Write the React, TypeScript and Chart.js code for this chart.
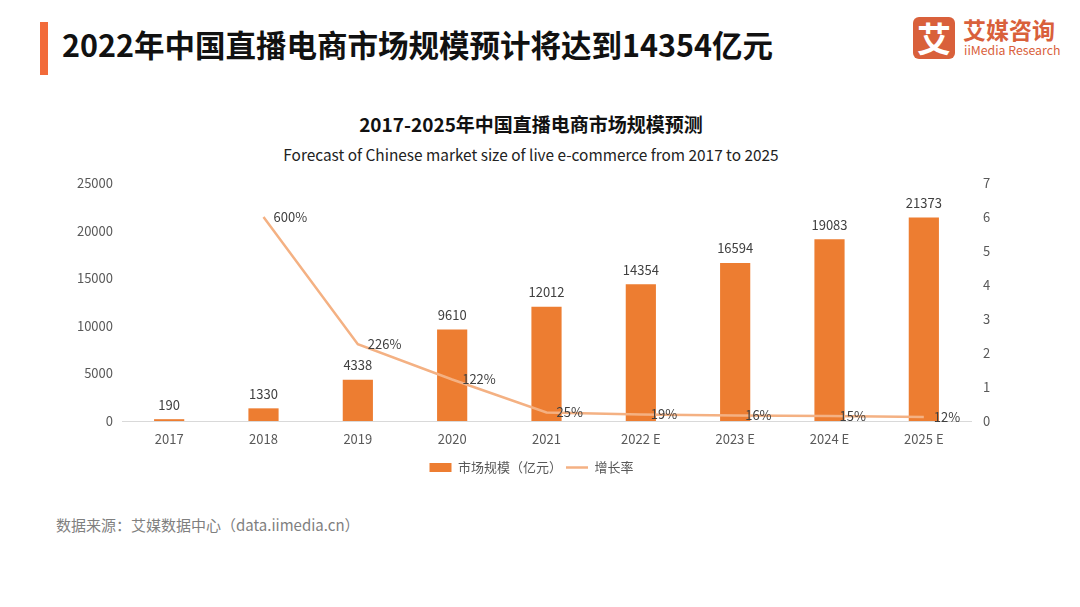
import React, { useEffect, useRef } from "react";
import { Chart, registerables } from "chart.js";

Chart.register(...registerables);

const categories = ["2017", "2018", "2019", "2020", "2021", "2022 E", "2023 E", "2024 E", "2025 E"];
const marketSize = [190, 1330, 4338, 9610, 12012, 14354, 16594, 19083, 21373];
const growthRate = [null, 6.0, 2.26, 1.22, 0.25, 0.19, 0.16, 0.15, 0.12];
const growthLabels = ["", "600%", "226%", "122%", "25%", "19%", "16%", "15%", "12%"];
const leftTicks = [0, 5000, 10000, 15000, 20000, 25000];
const rightTicks = [0, 1, 2, 3, 4, 5, 6, 7];

const FONT = "'Noto Sans CJK SC', 'Noto Sans', sans-serif";
const BAR_COLOR = "#ED7D31";
const LINE_COLOR = "#F4B183";

const labelPlugin = {
  id: "valueLabels",
  afterDatasetsDraw(chart: any) {
    const ctx = chart.ctx;
    ctx.save();
    ctx.font = `13px ${FONT}`;
    ctx.fillStyle = "#404040";
    const barMeta = chart.getDatasetMeta(0);
    ctx.textAlign = "center";
    ctx.textBaseline = "bottom";
    barMeta.data.forEach((el: any, i: number) => {
      ctx.fillText(String(marketSize[i]), el.x, el.y - 8);
    });
    const lineMeta = chart.getDatasetMeta(1);
    ctx.textAlign = "left";
    ctx.textBaseline = "middle";
    lineMeta.data.forEach((el: any, i: number) => {
      if (growthRate[i] == null) return;
      ctx.fillText(growthLabels[i], el.x + 10, el.y);
    });
    ctx.restore();
  },
};

function ChartCanvas() {
  const ref = useRef<HTMLCanvasElement | null>(null);
  useEffect(() => {
    if (!ref.current) return;
    const chart = new Chart(ref.current, {
      type: "bar",
      data: {
        labels: categories,
        datasets: [
          {
            type: "bar",
            label: "市场规模（亿元）",
            data: marketSize,
            backgroundColor: BAR_COLOR,
            borderWidth: 0,
            barPercentage: 0.32,
            categoryPercentage: 1,
            yAxisID: "y",
            pointStyle: "rect",
            order: 2,
          } as any,
          {
            type: "line",
            label: "增长率",
            data: growthRate,
            borderColor: LINE_COLOR,
            backgroundColor: LINE_COLOR,
            borderWidth: 2.5,
            pointRadius: 0,
            pointStyle: "line",
            tension: 0,
            yAxisID: "y1",
            order: 1,
          } as any,
        ],
      },
      options: {
        animation: false,
        responsive: false,
        maintainAspectRatio: false,
        layout: { padding: { top: 23, right: 17, left: 0, bottom: 6 } },
        plugins: {
          legend: {
            position: "bottom",
            labels: {
              usePointStyle: true,
              pointStyleWidth: 22,
              boxHeight: 9,
              padding: 4,
              color: "#595959",
              font: { family: FONT, size: 13 },
              sort: (a: any, b: any) => a.datasetIndex - b.datasetIndex,
            },
          },
          tooltip: { enabled: false },
          title: { display: false },
        },
        scales: {
          x: {
            grid: { display: false, drawTicks: false },
            border: { display: true, color: "#D9D9D9", width: 1 },
            ticks: { color: "#595959", font: { family: FONT, size: 13 }, padding: 10 },
            afterFit: (s: any) => { s.height = 36; },
          },
          y: {
            position: "left",
            min: 0,
            max: 25000,
            afterBuildTicks: (s: any) => { s.ticks = leftTicks.map((v) => ({ value: v })); },
            grid: { display: false, drawTicks: false },
            border: { display: false },
            ticks: { color: "#595959", font: { family: FONT, size: 13 }, padding: 9, callback: (v: any) => String(v) },
            afterFit: (s: any) => { s.width = 122; },
          },
          y1: {
            position: "right",
            min: 0,
            max: 7,
            afterBuildTicks: (s: any) => { s.ticks = rightTicks.map((v) => ({ value: v })); },
            grid: { display: false, drawTicks: false },
            border: { display: false },
            ticks: { color: "#595959", font: { family: FONT, size: 13 }, padding: 12, callback: (v: any) => String(v) },
            afterFit: (s: any) => { s.width = 92; },
          },
        },
      },
      plugins: [labelPlugin],
    });
    return () => chart.destroy();
  }, []);
  return <canvas ref={ref} width={1080} height={330} style={{ position: "absolute", left: 0, top: 160, width: 1080, height: 330 }} />;
}

export default function App() {
  return (
    <div style={{ position: "fixed", left: 0, top: 0, width: 1080, height: 607, background: "#fff", fontFamily: FONT, overflow: "hidden" }}>
      <div style={{ position: "absolute", left: 40, top: 22, width: 8, height: 53, background: "#F26B3A" }} />
      <div style={{ position: "absolute", left: 62, top: 22, fontSize: 30.5, fontWeight: 700, color: "#111", lineHeight: "44px", whiteSpace: "nowrap" }}>
        2022年中国直播电商市场规模预计将达到14354亿元
      </div>
      <div style={{ position: "absolute", left: 913, top: 17, width: 42, height: 42, borderRadius: 6, background: "#D9603B", color: "#fff", fontSize: 34, fontWeight: 700, lineHeight: "42px", textAlign: "center" }}>
        艾
      </div>
      <div style={{ position: "absolute", left: 963, top: 14, fontSize: 23, fontWeight: 700, color: "#D9603B", lineHeight: "30px", whiteSpace: "nowrap" }}>
        艾媒咨询
      </div>
      <div style={{ position: "absolute", left: 964, top: 42, fontSize: 12.3, color: "#D9603B", lineHeight: "16px", whiteSpace: "nowrap" }}>
        iiMedia Research
      </div>
      <div style={{ position: "absolute", left: 0, width: 1062, top: 110, textAlign: "center", fontSize: 19, fontWeight: 700, color: "#111", lineHeight: "28px" }}>
        2017-2025年中国直播电商市场规模预测
      </div>
      <div style={{ position: "absolute", left: 0, width: 1062, top: 143, textAlign: "center", fontSize: 15.4, color: "#222", lineHeight: "22px" }}>
        Forecast of Chinese market size of live e-commerce from 2017 to 2025
      </div>
      <ChartCanvas />
      <div style={{ position: "absolute", left: 56, top: 513, fontSize: 15, color: "#7F7F7F", lineHeight: "24px", whiteSpace: "nowrap" }}>
        数据来源：艾媒数据中心（data.iimedia.cn）
      </div>
    </div>
  );
}
